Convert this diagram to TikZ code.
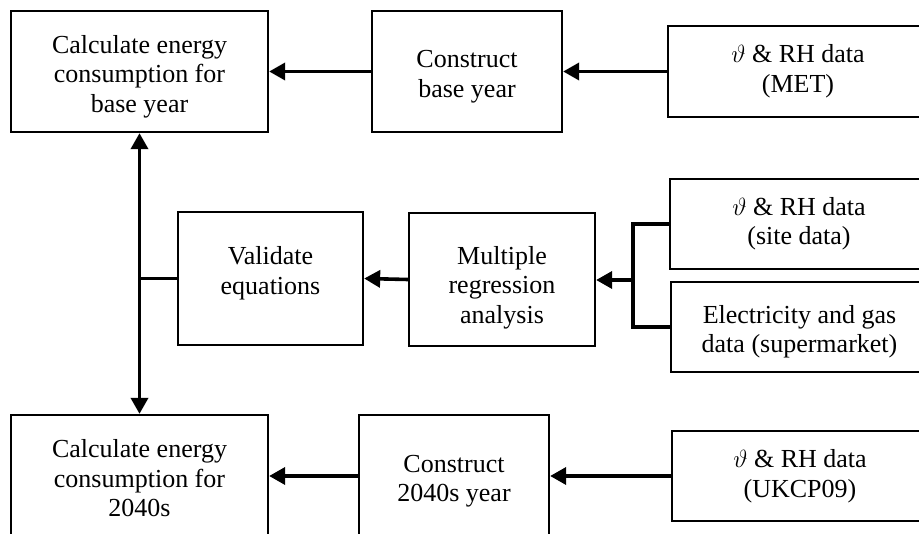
\documentclass[tikz,border=0pt]{standalone}
\usepackage{fontspec}
\setmainfont{Liberation Serif}
\usetikzlibrary{arrows.meta,calc}

\tikzset{
  box/.style={draw, line width=2.3pt, align=center, inner sep=0pt,
              font=\fontsize{26}{29.5}\selectfont},
  tip/.tip={Triangle[length=16pt,width=17pt]},
  flow/.style={line width=3.6pt, -tip},
  link/.style={line width=3.6pt},
}
% invisible struts that nudge a box's text down (\lower) or up (\upper)
\newcommand{\txtdown}[1]{\rule{0pt}{#1}}
\newcommand{\txtup}[1]{\rule[-#1]{0pt}{0pt}}

\begin{document}
\begin{tikzpicture}[x=1pt,y=-1pt]
  \useasboundingbox (0,0) rectangle (919,534);
  \clip (0,0) rectangle (919,534);

  % top row: base year
  \node[box, minimum width=257pt, minimum height=121pt] (calcbase) at (139.5,71.5)
    {\txtdown{28pt}Calculate energy\\consumption for\\base year};
  \node[box, minimum width=190pt, minimum height=121pt] (constbase) at (467,71.5)
    {\txtdown{28pt}Construct\\base year};
  \node[box, minimum width=260pt, minimum height=91pt] (met) at (798,71.5)
    {$\vartheta$ \& RH data\\(MET)};

  % middle row: regression and validation
  \node[box, minimum width=185pt, minimum height=133pt] (validate) at (270.5,278.5)
    {Validate\\equations\txtup{16pt}};
  \node[box, minimum width=186pt, minimum height=133pt] (regress) at (502,279.5)
    {\txtdown{34pt}Multiple\\regression\\analysis};
  \node[box, minimum width=258pt, minimum height=90pt] (site) at (799,224)
    {$\vartheta$ \& RH data\\(site data)};
  \node[box, minimum width=257pt, minimum height=90pt] (elec) at (799.5,327)
    {\txtdown{28pt}Electricity and gas\\data (supermarket)};

  % bottom row: 2040s
  \node[box, minimum width=257pt, minimum height=124pt] (calcfut) at (139.5,477)
    {\txtdown{21pt}Calculate energy\\consumption for\\2040s};
  \node[box, minimum width=190pt, minimum height=124pt] (constfut) at (454,477)
    {\txtdown{26pt}Construct\\2040s year};
  \node[box, minimum width=256pt, minimum height=90pt] (ukcp) at (800,476)
    {$\vartheta$ \& RH data\\(UKCP09)};

  % connectors
  \draw[flow] (met.west) -- (constbase.east);
  \draw[flow] (constbase.west) -- (calcbase.east);
  \draw[flow] (ukcp.west) -- (constfut.east |- ukcp.west);
  \draw[flow] (constfut.west |- ukcp.west) -- (calcfut.east |- ukcp.west);

  \draw[line width=3.6pt, tip-tip] (calcbase.south) -- (calcfut.north);
  \draw[link] (validate.west) -- (validate.west -| calcbase.south);

  \draw[flow] (regress.west) -- (validate.east);

  \coordinate (junction) at (633,280);
  \draw[link] (site.west) -- (site.west -| junction) -- (elec.west -| junction) -- (elec.west);
  \draw[flow] (junction) -- (regress.east |- junction);
\end{tikzpicture}
\end{document}
